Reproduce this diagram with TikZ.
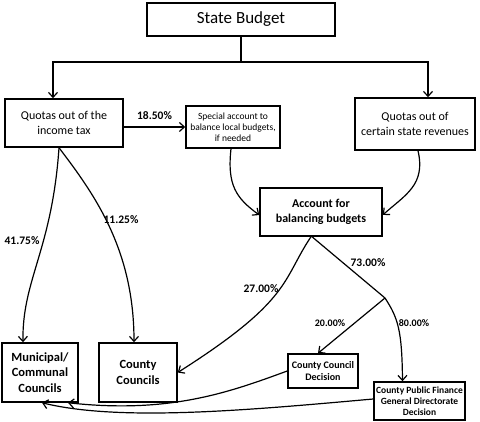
\documentclass[tikz,border=0pt]{standalone}
\usepackage{fontspec}
\setmainfont{Carlito}
\usetikzlibrary{arrows.meta}
\tikzset{
  box/.style={draw,rectangle,align=center,line width=1.5pt,inner sep=1pt},
  pct/.style={font=\fontsize{11.5}{13}\selectfont\bfseries},
  spct/.style={font=\fontsize{10}{11}\selectfont\bfseries},
  >={Straight Barb[length=5pt,width=9pt]}
}
\begin{document}
\begin{tikzpicture}[x=1pt,y=-1pt,line width=1.2pt]
\useasboundingbox (0,0) rectangle (480,422);
\node[box,minimum width=188pt,minimum height=33pt,font=\fontsize{17}{18}\selectfont] (budget) at (241,19.5) {State Budget};
\node[box,minimum width=118pt,minimum height=48pt,font=\fontsize{12}{14.5}\selectfont] (income) at (64,123) {Quotas out of the\\income tax};
\node[box,minimum width=94pt,minimum height=42pt,font=\fontsize{9.5}{11}\selectfont] (special) at (233,127) {Special account to\\balance local budgets,\\if needed};
\node[box,minimum width=120pt,minimum height=52pt,font=\fontsize{12}{14.5}\selectfont] (revenues) at (415,124) {Quotas out of\\certain state revenues};
\node[box,minimum width=122pt,minimum height=48pt,font=\fontsize{12}{14.5}\selectfont\bfseries] (account) at (321,212) {Account for\\balancing budgets};
\node[box,minimum width=76pt,minimum height=59pt,font=\fontsize{12.5}{15.5}\selectfont\bfseries] (municipal) at (40,372.5) {Municipal/\\Communal\\Councils};
\node[box,minimum width=78pt,minimum height=59pt,font=\fontsize{12.5}{15.5}\selectfont\bfseries] (county) at (138,372.5) {County\\Councils};
\node[box,minimum width=70pt,minimum height=34pt,font=\fontsize{10}{12}\selectfont\bfseries] (ccdec) at (323,371) {County Council\\Decision};
\node[box,minimum width=91pt,minimum height=38pt,font=\fontsize{9.5}{11}\selectfont\bfseries] (cpf) at (419.5,401) {County Public Finance\\General Directorate\\Decision};
\coordinate (fork) at (241,62);
\coordinate (split) at (385,298);
% from the state budget
\draw (budget) -- (fork);
\draw[->] (fork) -| ([xshift=-11pt]income.north);
\draw[->] (fork) -| ([xshift=13pt]revenues.north);
% into the balancing account
\draw[->] (income.east |- special.west) -- node[pct,above=3pt] {18.50\%} (special.west);
\draw[->] ([xshift=-2pt]special.south) .. controls (227,185) and (236,198) .. ([yshift=-3pt]account.west);
\draw[->] ([xshift=3pt]revenues.south) .. controls (426,185) and (405,195) .. ([yshift=-3pt]account.east);
% income tax shares
\draw[->] ([xshift=-5pt]income.south) .. controls (52,250) and (22,280) .. ([xshift=-17pt]municipal.north);
\draw[->] ([xshift=-5pt]income.south) .. controls (95,195) and (134,250) .. ([xshift=-4pt]county.north);
\node[pct] (p1) at (22,241) {41.75\%};
\node[pct] (p2) at (121,220) {11.25\%};
% balancing account shares
\draw[->] ([xshift=-10pt]account.south) .. controls (282,280) and (292,300) .. (county.east);
\draw ([xshift=-9pt]account.south) -- (split);
\draw[->] (split) -- ([xshift=-5pt]ccdec.north);
\draw[->] (split) .. controls (398,318) and (402,330) .. ([xshift=-17pt]cpf.north);
\node[pct] (p3) at (261,289) {27.00\%};
\node[pct] (p4) at (368,263) {73.00\%};
\node[spct] (p5) at (330,323) {20.00\%};
\node[spct] (p6) at (414,323) {80.00\%};
% decisions back to the councils
\draw[->] (ccdec.west) .. controls (230,392) and (170,414) .. ([xshift=28pt]municipal.south);
\draw[->] ([yshift=2pt]cpf.west) .. controls (250,410) and (120,422) .. ([xshift=2pt]municipal.south);
\end{tikzpicture}
\end{document}
